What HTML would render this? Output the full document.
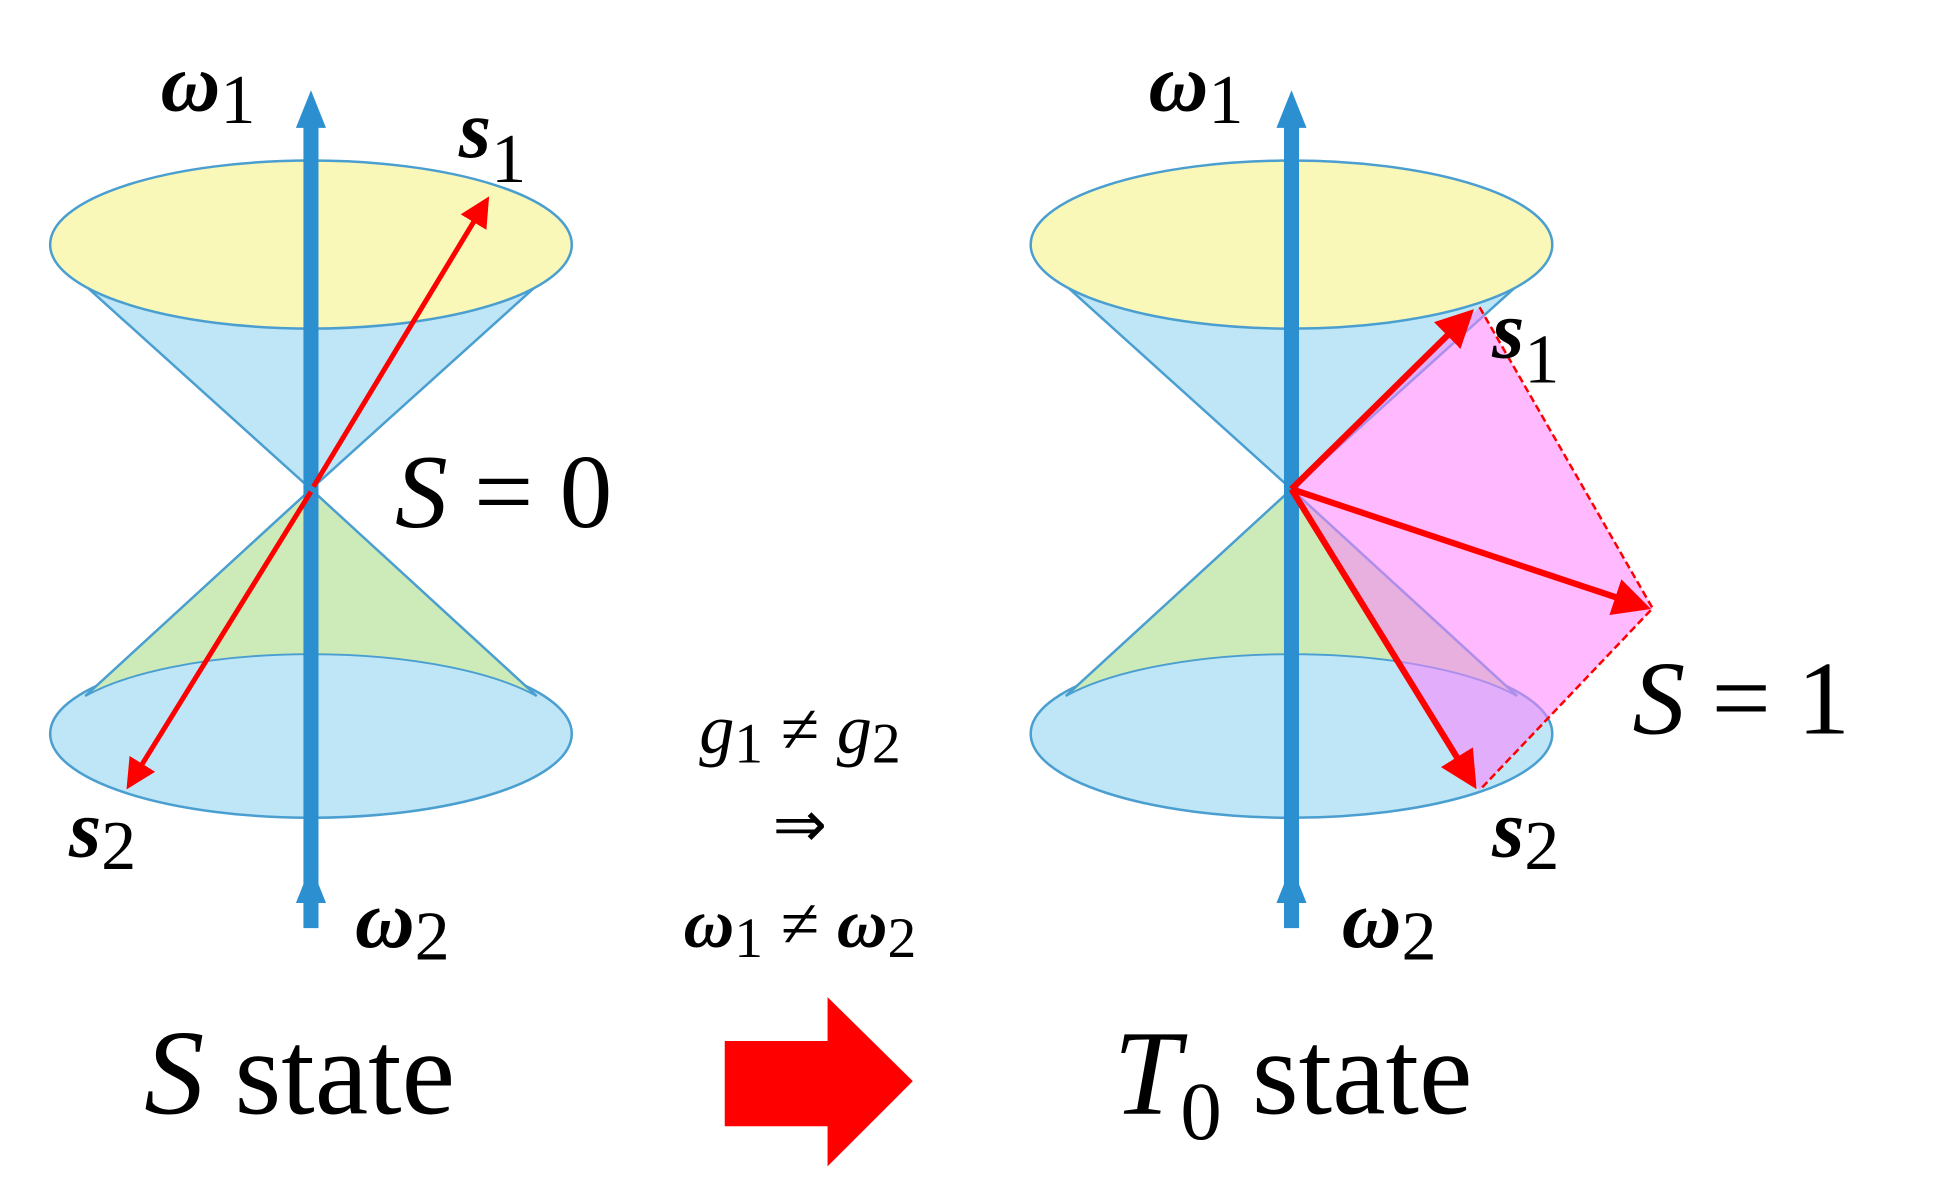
<!DOCTYPE html>
<html><head><meta charset="utf-8"><style>html,body{margin:0;padding:0;background:#fff}svg{display:block}</style></head>
<body>
<svg width="1941" height="1194" viewBox="0 0 1548 952" preserveAspectRatio="none" xmlns="http://www.w3.org/2000/svg">
<defs>
<marker id="ar" markerWidth="6" markerHeight="6" refX="5" refY="3" orient="auto" markerUnits="strokeWidth"><path d="M0,0 L6,3 L0,6 z" fill="#f00"/></marker>
</defs>
<g id="cone" stroke="#4a9fd0" stroke-width="2">
<ellipse cx="248" cy="585" rx="208" ry="67" fill="#bfe6f7"/>
<path d="M248,390 L68,555 A208,67 0 0 1 428,555 Z" fill="#cdebb8" stroke="none"/>
<path d="M68,555 A208,67 0 0 1 428,555" fill="none" stroke-width="1.5"/>
<path d="M248,390 L68,555 M248,390 L428,555" fill="none"/>
<path d="M248,390 L65,225 A208,67 0 0 0 431,225 Z" fill="#bfe6f7"/>
<ellipse cx="248" cy="195" rx="208" ry="67" fill="#f9f8b8"/>
</g>
<use href="#cone" x="782"/>
<g fill="#2b8fd0">
<rect x="242" y="95" width="12" height="645"/><path d="M248,72 L236,102 L260,102 Z"/><path d="M248,690 L236,720 L260,720 Z"/>
<rect x="1024" y="95" width="12" height="645"/><path d="M1030,72 L1018,102 L1042,102 Z"/><path d="M1030,690 L1018,720 L1042,720 Z"/>
</g>
<line x1="250" y1="388" x2="388" y2="160" stroke="#f00" stroke-width="4" marker-end="url(#ar)"/>
<line x1="248" y1="392" x2="103" y2="626" stroke="#f00" stroke-width="4" marker-end="url(#ar)"/>
<path d="M1030,390 L1180,245 L1318,485 L1180,630 Z" fill="#ff80ff" fill-opacity="0.55" stroke="none"/>
<path d="M1180,245 L1318,485 L1180,630" fill="none" stroke="#f00" stroke-width="2" stroke-dasharray="6,3"/>
<line x1="1030" y1="390" x2="1172" y2="250" stroke="#f00" stroke-width="5" marker-end="url(#ar)"/>
<line x1="1030" y1="390" x2="1175" y2="625" stroke="#f00" stroke-width="5" marker-end="url(#ar)"/>
<line x1="1030" y1="390" x2="1312" y2="484" stroke="#f00" stroke-width="5" marker-end="url(#ar)"/>
<g font-family="Liberation Serif, serif" fill="#000">
<text x="128" y="88" font-size="66" font-weight="bold" font-style="italic">ω<tspan font-size="56" font-weight="normal" font-style="normal" dy="10">1</tspan></text>
<text x="916" y="88" font-size="66" font-weight="bold" font-style="italic">ω<tspan font-size="56" font-weight="normal" font-style="normal" dy="10">1</tspan></text>
<text x="366" y="125" font-size="66" font-weight="bold" font-style="italic">s<tspan font-size="56" font-weight="normal" font-style="normal" dy="20">1</tspan></text>
<text x="1190" y="285" font-size="66" font-weight="bold" font-style="italic">s<tspan font-size="56" font-weight="normal" font-style="normal" dy="20">1</tspan></text>
<text x="55" y="683" font-size="66" font-weight="bold" font-style="italic">s<tspan font-size="56" font-weight="normal" font-style="normal" dy="10">2</tspan></text>
<text x="1190" y="683" font-size="66" font-weight="bold" font-style="italic">s<tspan font-size="56" font-weight="normal" font-style="normal" dy="10">2</tspan></text>
<text x="283" y="755" font-size="66" font-weight="bold" font-style="italic">ω<tspan font-size="56" font-weight="normal" font-style="normal" dy="10">2</tspan></text>
<text x="1070" y="755" font-size="66" font-weight="bold" font-style="italic">ω<tspan font-size="56" font-weight="normal" font-style="normal" dy="10">2</tspan></text>
<text x="315" y="420" font-size="84" font-style="italic">S<tspan font-style="normal"> = 0</tspan></text>
<text x="1302" y="585" font-size="84" font-style="italic">S<tspan font-style="normal"> = 1</tspan></text>
<text x="638" y="600" font-size="56" text-anchor="middle" font-style="italic">g<tspan font-size="46" font-style="normal" dy="8">1</tspan><tspan font-style="normal" dy="-8"> ≠ </tspan>g<tspan font-size="46" font-style="normal" dy="8">2</tspan></text>
<text x="638" y="675" font-size="52" text-anchor="middle">⇒</text>
<text x="638" y="755" font-size="56" text-anchor="middle" font-weight="bold" font-style="italic">ω<tspan font-size="46" font-weight="normal" font-style="normal" dy="8">1</tspan><tspan font-weight="normal" font-style="normal" dy="-8"> ≠ </tspan>ω<tspan font-size="46" font-weight="normal" font-style="normal" dy="8">2</tspan></text>
<text x="115" y="888" font-size="96" font-style="italic">S<tspan font-style="normal"> state</tspan></text>
<text x="888" y="888" font-size="96" font-style="italic">T<tspan font-size="66" font-style="normal" dy="20">0</tspan><tspan font-style="normal" dy="-20"> state</tspan></text>
</g>
<path d="M578,830 L660,830 L660,795 L728,862 L660,930 L660,898 L578,898 Z" fill="#f00"/>
</svg>
</body></html>
